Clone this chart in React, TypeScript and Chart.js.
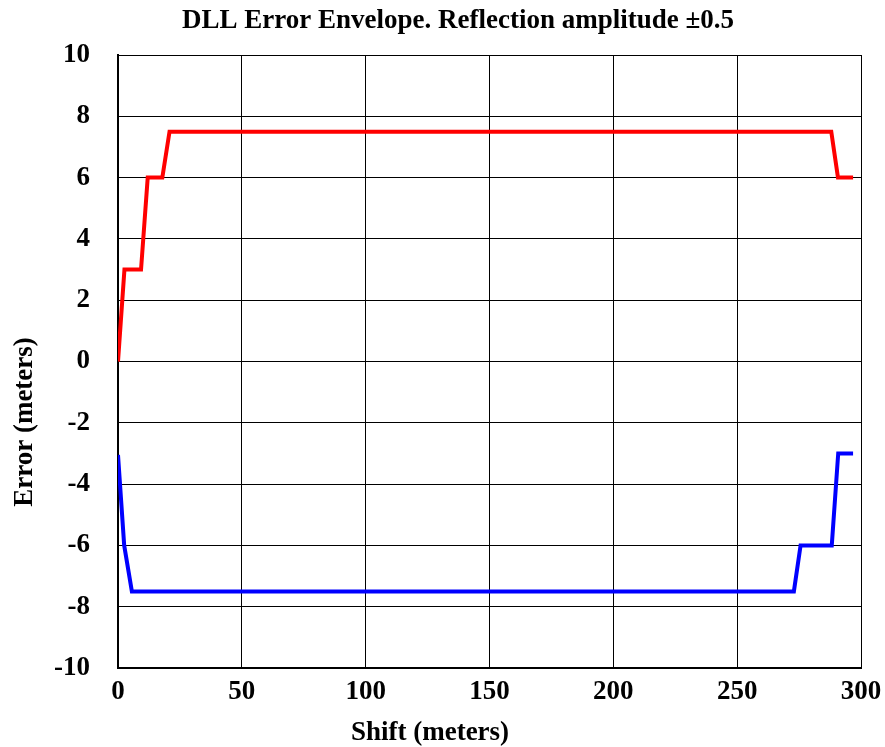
import React, { useEffect, useRef } from "react";
import { Chart, registerables } from "chart.js";

Chart.register(...registerables);

const TITLE = "DLL Error Envelope. Reflection amplitude \u00b10.5";
const X_TITLE = "Shift (meters)";
const Y_TITLE = "Error (meters)";

const upperX = [0, 2.6, 9.3, 12, 17.9, 20.8, 288, 290.7, 296.8];
const upperY = [0, 3, 3, 6, 6, 7.5, 7.5, 6, 6];

const lowerX = [0, 2.5, 5.6, 272.9, 275.6, 288.2, 290.8, 296.8];
const lowerY = [-3.05, -6, -7.5, -7.5, -6, -6, -3, -3];

const FONT = "'Liberation Serif', 'Times New Roman', serif";

const titlesPlugin = {
  id: "offsetTitles",
  afterDraw(chart: any) {
    const c = chart.ctx;
    c.save();
    c.fillStyle = "#000";
    c.font = `bold 27px ${FONT}`;
    c.textAlign = "center";
    c.textBaseline = "middle";
    c.fillText(TITLE, 458, 21);
    c.fillText(X_TITLE, 430, 733);
    c.translate(25, 422);
    c.rotate(-Math.PI / 2);
    c.fillText(Y_TITLE, 0, 0);
    c.restore();
  },
};

export default function App() {
  const ref = useRef<HTMLCanvasElement>(null);
  useEffect(() => {
    const ctx = ref.current!;
    const chart = new Chart(ctx, {
      type: "line",
      data: {
        datasets: [
          {
            label: "upper",
            data: upperX.map((x, i) => ({ x, y: upperY[i] })),
            borderColor: "#ff0000",
            borderWidth: 4,
            pointRadius: 0,
            tension: 0,
            fill: false,
          },
          {
            label: "lower",
            data: lowerX.map((x, i) => ({ x, y: lowerY[i] })),
            borderColor: "#0000ff",
            borderWidth: 4,
            pointRadius: 0,
            tension: 0,
            fill: false,
          },
        ],
      },
      plugins: [titlesPlugin],
      options: {
        animation: false,
        responsive: false,
        maintainAspectRatio: false,
        layout: { padding: { left: 0, right: 24, top: 55, bottom: 0 } },
        plugins: {
          legend: { display: false },
          tooltip: { enabled: false },
          title: { display: false },
        },
        scales: {
          x: {
            type: "linear",
            min: 0,
            max: 300,
            ticks: {
              stepSize: 50,
              color: "#000",
              font: { family: FONT, size: 27, weight: "bold" },
              padding: 8,
              maxRotation: 0,
            },
            grid: { color: "#000", lineWidth: 1, drawTicks: false },
            border: { color: "#000", width: 2 },
            title: { display: false },
            afterFit: (s: any) => {
              s.height = 79;
              s.paddingLeft = 0;
              s.paddingRight = 0;
            },
          },
          y: {
            type: "linear",
            min: -10,
            max: 10,
            ticks: {
              stepSize: 2,
              color: "#000",
              font: { family: FONT, size: 27, weight: "bold" },
              padding: 28,
            },
            grid: { color: "#000", lineWidth: 1, drawTicks: false },
            border: { color: "#000", width: 2 },
            title: { display: false },
            afterFit: (s: any) => {
              s.width = 118;
              s.paddingTop = 0;
              s.paddingBottom = 0;
            },
          },
        },
      },
    });
    return () => chart.destroy();
  }, []);
  return (
    <div style={{ position: "fixed", left: 0, top: 0, width: 885, height: 747, background: "#fff" }}>
      <canvas ref={ref} width={885} height={747} style={{ width: 885, height: 747 }} />
    </div>
  );
}
